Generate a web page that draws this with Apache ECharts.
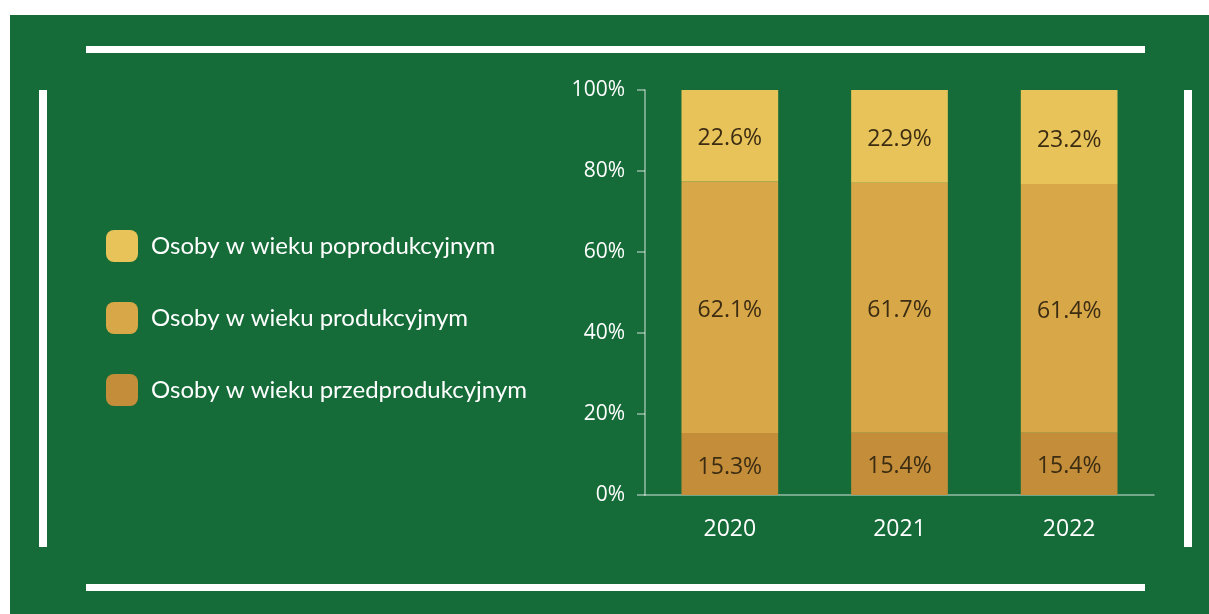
<!DOCTYPE html>
<html>
<head>
<meta charset="utf-8">
<script src="https://cdn.jsdelivr.net/npm/echarts@6/dist/echarts.min.js"></script>
<style>
  html, body { margin: 0; padding: 0; background: #ffffff; }
  #chart { width: 1209px; height: 614px; }
</style>
</head>
<body>
<div id="chart"></div>
<script>
// dane
var years = ['2020', '2021', '2022'];
var przedprodukcyjny = [15.3, 15.4, 15.4];
var produkcyjny = [62.1, 61.7, 61.4];
var poprodukcyjny = [22.6, 22.9, 23.2];
var yTicks = [0, 20, 40, 60, 80, 100];

var GREEN = '#166c38';
var AXIS = 'rgba(255,255,255,0.55)';

var chart = echarts.init(document.getElementById('chart'));

var label = {
    show: true,
    position: 'inside',
    offset: [0, 3],
    color: '#3b2c12',
    fontSize: 23,
    fontFamily: 'Open Sans',
    formatter: function(p) {
        return p.value.toFixed(1) + '%';
    }
};

var option = {
    backgroundColor: '#ffffff',
    animation: false,
    graphic: [
        // zielone tlo
        { type: 'rect', z: -10, shape: { x: 10, y: 15, width: 1199, height: 599 }, style: { fill: GREEN } },
        // biale ramki
        { type: 'rect', z: -5, shape: { x: 86, y: 46, width: 1059, height: 7 }, style: { fill: '#ffffff' } },
        { type: 'rect', z: -5, shape: { x: 86, y: 584, width: 1059, height: 7 }, style: { fill: '#ffffff' } },
        { type: 'rect', z: -5, shape: { x: 39, y: 90, width: 8, height: 457 }, style: { fill: '#ffffff' } },
        { type: 'rect', z: -5, shape: { x: 1184, y: 90, width: 8, height: 457 }, style: { fill: '#ffffff' } }
    ],
    legend: {
        orient: 'vertical',
        left: 106,
        top: 230,
        padding: 0,
        itemWidth: 32,
        itemHeight: 32,
        itemGap: 40,
        icon: 'roundRect',
        data: ['Osoby w wieku poprodukcyjnym', 'Osoby w wieku produkcyjnym', 'Osoby w wieku przedprodukcyjnym'],
        textStyle: {
            color: '#ffffff',
            fontSize: 24,
            fontFamily: 'Lato',
            padding: [0, 0, 0, 8]
        }
    },
    grid: {
        left: 645,
        top: 90,
        right: 55,
        bottom: 119,
        containLabel: false
    },
    xAxis: {
        type: 'category',
        data: years,
        axisLine: { lineStyle: { color: AXIS, width: 1.5 } },
        axisTick: { alignWithLabel: true, length: 8, lineStyle: { color: AXIS, width: 1.5 } },
        axisLabel: { color: '#ffffff', fontSize: 23, fontFamily: 'Open Sans', margin: 23 }
    },
    yAxis: {
        type: 'value',
        min: yTicks[0],
        max: yTicks[yTicks.length - 1],
        interval: 20,
        splitLine: { show: false },
        axisLine: { show: true, lineStyle: { color: AXIS, width: 1.5 } },
        axisTick: { show: true, length: 8, lineStyle: { color: AXIS, width: 1.5 } },
        axisLabel: { color: '#ffffff', fontSize: 21, fontFamily: 'Open Sans', margin: 20, formatter: '{value}%' }
    },
    series: [{
        name: 'Osoby w wieku przedprodukcyjnym',
        type: 'bar',
        stack: 'all',
        barWidth: '57%',
        data: przedprodukcyjny,
        itemStyle: { color: '#c38d3a' },
        label: label
    }, {
        name: 'Osoby w wieku produkcyjnym',
        type: 'bar',
        stack: 'all',
        barWidth: '57%',
        data: produkcyjny,
        itemStyle: { color: '#d8a748' },
        label: label
    }, {
        name: 'Osoby w wieku poprodukcyjnym',
        type: 'bar',
        stack: 'all',
        barWidth: '57%',
        data: poprodukcyjny,
        itemStyle: { color: '#e8c35a' },
        label: label
    }]
};

chart.setOption(option);
</script>
</body>
</html>
